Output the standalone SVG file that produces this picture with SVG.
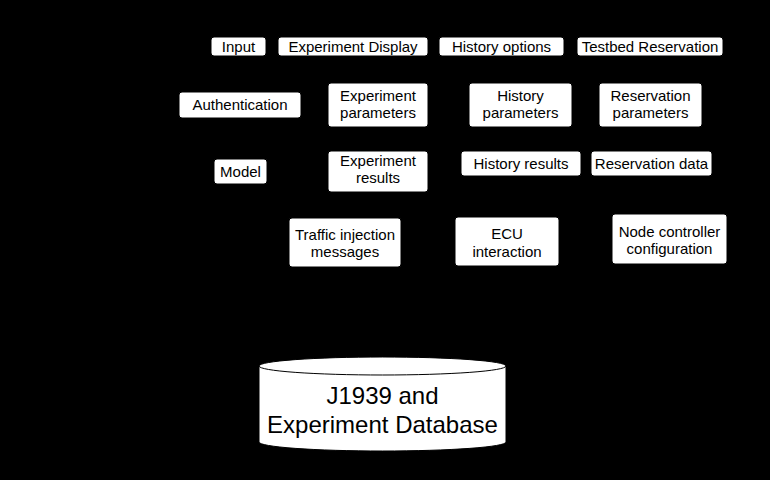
<svg xmlns="http://www.w3.org/2000/svg" width="770" height="480" viewBox="0 0 770 480">
<style>
.box{fill:#fff;stroke:#000;stroke-width:1}
.t{font-family:"Liberation Sans",Arial,sans-serif;font-size:15px;fill:#000;text-anchor:middle}
.db{font-family:"Liberation Sans",Arial,sans-serif;font-size:24px;fill:#000;text-anchor:middle}
</style>
<rect x="0" y="0" width="770" height="480" fill="#000"/>
<g id="connectors"></g>
<g id="input"><rect class="box" x="211" y="37" width="55" height="19" rx="3"/><text class="t" x="238.5" y="52">Input</text></g>
<g id="experiment-display"><rect class="box" x="278" y="37" width="150" height="19" rx="3"/><text class="t" x="353" y="52">Experiment Display</text></g>
<g id="history-options"><rect class="box" x="439" y="37" width="125" height="19" rx="3"/><text class="t" x="501.5" y="52">History options</text></g>
<g id="testbed-reservation"><rect class="box" x="577" y="37" width="146" height="19" rx="3"/><text class="t" x="650" y="52">Testbed Reservation</text></g>
<g id="authentication"><rect class="box" x="179" y="92" width="122" height="26" rx="3"/><text class="t" x="240" y="110">Authentication</text></g>
<g id="experiment-parameters"><rect class="box" x="328" y="83" width="100" height="44" rx="3"/><text class="t" x="378" y="101">Experiment</text><text class="t" x="378" y="118">parameters</text></g>
<g id="history-parameters"><rect class="box" x="469" y="83" width="103" height="44" rx="3"/><text class="t" x="520.5" y="101">History</text><text class="t" x="520.5" y="118">parameters</text></g>
<g id="reservation-parameters"><rect class="box" x="599" y="83" width="103" height="44" rx="3"/><text class="t" x="650.5" y="101">Reservation</text><text class="t" x="650.5" y="118">parameters</text></g>
<g id="model"><rect class="box" x="214" y="159" width="53" height="25" rx="3"/><text class="t" x="240.5" y="177">Model</text></g>
<g id="experiment-results"><rect class="box" x="328" y="151" width="100" height="41" rx="3"/><text class="t" x="378" y="166">Experiment</text><text class="t" x="378" y="183">results</text></g>
<g id="history-results"><rect class="box" x="461" y="151" width="120" height="25" rx="3"/><text class="t" x="521" y="169">History results</text></g>
<g id="reservation-data"><rect class="box" x="591" y="151" width="121" height="25" rx="3"/><text class="t" x="651.5" y="169">Reservation data</text></g>
<g id="traffic-injection"><rect class="box" x="289" y="218" width="112" height="49" rx="3"/><text class="t" x="345" y="240">Traffic injection</text><text class="t" x="345" y="257">messages</text></g>
<g id="ecu-interaction"><rect class="box" x="455" y="217" width="104" height="49" rx="3"/><text class="t" x="507" y="239">ECU</text><text class="t" x="507" y="257">interaction</text></g>
<g id="node-controller"><rect class="box" x="612" y="214" width="115" height="50" rx="3"/><text class="t" x="669.5" y="237">Node controller</text><text class="t" x="669.5" y="254">configuration</text></g>
<g id="database">
<path d="M259,366 A123.5,9 0 0 1 506,366 L506,442 A123.5,9 0 0 1 259,442 Z" fill="#fff" stroke="#000" stroke-width="1"/>
<path d="M259,366 A123.5,9 0 0 0 506,366" fill="none" stroke="#000" stroke-width="1"/>
<text class="db" x="382.5" y="404">J1939 and</text>
<text class="db" x="382.5" y="433">Experiment Database</text>
</g>
</svg>
